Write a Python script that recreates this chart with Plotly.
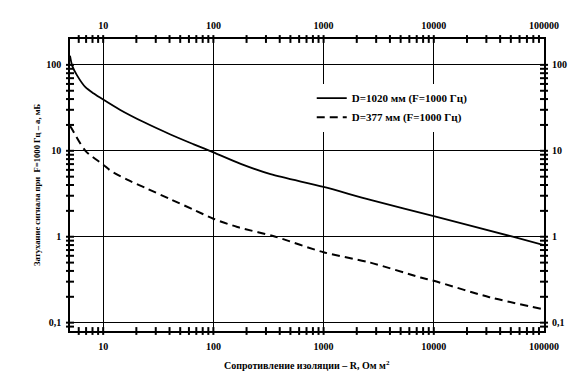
import plotly.graph_objects as go
import numpy as np

# ---- data ----
R_1020 = [5, 5.24, 5.81, 6.9, 8.22, 10, 14.3, 23.3, 40.8, 66.4, 100, 177, 330, 1000, 2660, 10000, 52000, 100000]
A_1020 = [128, 97.4, 75, 55, 46.5, 39.5, 29.9, 21.6, 15.5, 11.9, 9.6, 7.05, 5.35, 3.8, 2.68, 1.74, 1.0, 0.80]

R_377 = [5, 5.24, 6.9, 10, 11.6, 16.5, 25, 40.8, 66.4, 100, 165, 366, 1000, 2660, 7600, 10000, 32000, 100000]
A_377 = [19.5, 17.7, 10, 6.9, 5.9, 4.62, 3.63, 2.73, 2.06, 1.62, 1.30, 1.0, 0.66, 0.50, 0.335, 0.307, 0.198, 0.143]

NAME_1020 = "D=1020 мм (F=1000 Гц)"
NAME_377 = "D=377 мм (F=1000 Гц)"

X_MAJOR = [10, 100, 1000, 10000, 100000]
X_MAJOR_TEXT = ["10", "100", "1000", "10000", "100000"]
Y_MAJOR = [0.1, 1, 10, 100]
Y_MAJOR_TEXT = ["0,1", "1", "10", "100"]

X_TITLE = "Сопротивление изоляции – R, Ом м<sup>2</sup>"
Y_TITLE = "Затухание сигнала при  F=1000 Гц – a, мБ"

X_RANGE = [5, 100000]
Y_RANGE = [0.08, 200]


def log_minor_vals(lo, hi):
    vals = []
    e0 = int(np.floor(np.log10(lo)))
    e1 = int(np.ceil(np.log10(hi)))
    for e in range(e0, e1 + 1):
        for m in range(1, 10):
            v = round(m * 10.0 ** e, 10)
            if lo * 1.001 < v < hi * 0.999:
                vals.append(v)
    return vals


xt_vals = log_minor_vals(*X_RANGE)
yt_vals = log_minor_vals(*Y_RANGE)

W, H = 578, 372
M = dict(l=62, r=42, t=24, b=49)
PW = W - M["l"] - M["r"]
PH = H - M["t"] - M["b"]

FONT = "Liberation Serif, Times New Roman, serif"
tickfont = dict(family=FONT, size=10, color="black", weight="bold")
TL = 4  # half length of the crossing ticks (px)

fig = go.Figure()
fig.add_trace(go.Scatter(x=R_1020, y=A_1020, mode="lines", name=NAME_1020,
                         line=dict(color="black", width=1.8, shape="spline", smoothing=0.8)))
fig.add_trace(go.Scatter(x=R_377, y=A_377, mode="lines", name=NAME_377,
                         line=dict(color="black", width=2, dash="8px,5px", shape="spline", smoothing=0.8)))
# invisible anchor for the top/right label axes
fig.add_trace(go.Scatter(x=[X_RANGE[0]], y=[Y_RANGE[0]], xaxis="x2", yaxis="y2", mode="markers",
                         marker=dict(opacity=0), showlegend=False, hoverinfo="skip"))

xr = [np.log10(X_RANGE[0]), np.log10(X_RANGE[1])]
yr = [np.log10(Y_RANGE[0]), np.log10(Y_RANGE[1])]

lab_x = dict(type="log", range=xr, tickvals=X_MAJOR, ticktext=X_MAJOR_TEXT, tickfont=tickfont,
             ticks="outside", ticklen=TL + 1, tickcolor="rgba(0,0,0,0)", zeroline=False)
lab_y = dict(type="log", range=yr, tickvals=Y_MAJOR, ticktext=Y_MAJOR_TEXT, tickfont=tickfont,
             ticks="outside", ticklen=TL + 1, tickcolor="rgba(0,0,0,0)", zeroline=False)

# crossing tick marks on all four sides (axis value + small paper offset)
dy = TL / PH
dx = TL / PW
tick_line = dict(color="black", width=2)
shapes = []
for v in xt_vals:
    for base in (0, 1):
        shapes.append(dict(type="line", xref="x", yref="paper", x0=v, x1=v,
                           y0=base - dy, y1=base + dy, line=tick_line, layer="above"))
for v in yt_vals:
    for base in (0, 1):
        shapes.append(dict(type="line", yref="y", xref="paper", y0=v, y1=v,
                           x0=base - dx, x1=base + dx, line=tick_line, layer="above"))

fig.update_layout(
    width=W, height=H,
    margin=M,
    paper_bgcolor="white", plot_bgcolor="white",
    xaxis=dict(lab_x, side="bottom", showgrid=True, gridcolor="black", gridwidth=1.3,
               showline=True, linecolor="black", linewidth=1.6, mirror=True),
    yaxis=dict(lab_y, side="left", showgrid=True, gridcolor="black", gridwidth=1.3,
               showline=True, linecolor="black", linewidth=1.6, mirror=True),
    xaxis2=dict(lab_x, overlaying="x", anchor="y2", side="top", showgrid=False),
    yaxis2=dict(lab_y, overlaying="y", anchor="x2", side="right", showgrid=False),
    shapes=shapes,
    legend=dict(x=0.51, y=0.847, xanchor="left", yanchor="top", bgcolor="white", borderwidth=0,
                font=dict(family=FONT, size=11, color="black", weight="bold"), tracegroupgap=0),
    annotations=[
        dict(text=X_TITLE, xref="paper", yref="paper", x=0.5, y=0, yshift=-34, showarrow=False,
             xanchor="center", yanchor="middle", font=dict(family=FONT, size=10, color="black", weight="bold")),
        dict(text=Y_TITLE, xref="paper", yref="paper", x=0, y=0.5, xshift=-33, showarrow=False, textangle=-90,
             xanchor="center", yanchor="middle", font=dict(family=FONT, size=8.6, color="black", weight="bold")),
    ],
    showlegend=True,
)

fig.write_html("out.html")
